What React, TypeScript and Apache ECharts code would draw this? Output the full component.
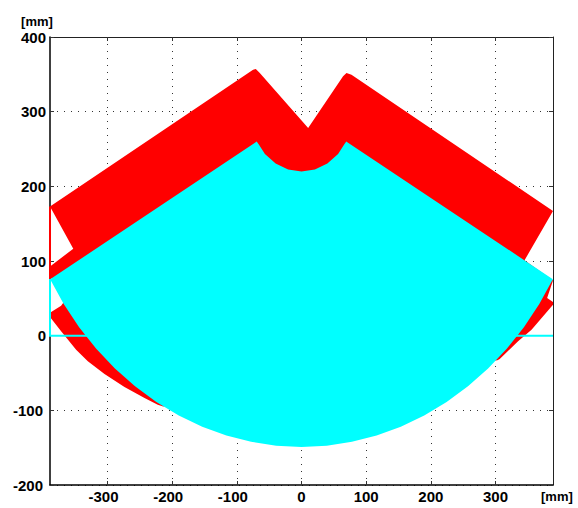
import React, { useEffect, useRef } from "react";
import * as echarts from "echarts";

const xTicks = [-300, -200, -100, 0, 100, 200, 300];
const yTicks = [-200, -100, 0, 100, 200, 300, 400];
const xRange = [-389, 389];
const yRange = [-200, 400];

const redOutline = [
  [-389, 173], [-74.9, 356.2], [-70.7, 357], [-64.5, 351.8], [10.3, 278], [64.3, 347.3], [69.6, 351.8], [77.3, 349.5],
  [389, 167], [345, 101], [389, 74], [379.9, 50.5], [389, 45], [389, 41.5], [355.8, 8], [335, -7.6],
  [306.6, -31.2], [303, -33], [-214, -95], [-222.3, -92.4], [-242.8, -83.4], [-273.8, -68.7], [-304.7, -51.5],
  [-330.5, -34.4], [-348.6, -18.7], [-371.8, 5.8], [-387.8, 23.7], [-387.8, 31.2], [-371.8, 40.2],
  [-330, 90], [-389, 76], [-389, 92.6], [-353, 116.5],
];
const redEdge = [[-389, 173], [-389, 76]];

const cyanOutline = [
  [-388.8, 75.5], [-72, 258.5], [-69.3, 260], [-66, 256],
  [-56.6, 243.4], [-40, 230.7], [-20.7, 222.7], [0, 220], [20.7, 222.7], [40, 230.7], [56.6, 243.4],
  [66, 256], [69.3, 260], [72, 258.5], [388.8, 75.5],
  [367.8, 42.5], [344, 11.4], [317.5, -17.5], [288.6, -44], [257.5, -67.8], [224.5, -88.8],
  [189.8, -106.9], [153.6, -121.9], [116.2, -133.7], [78, -142.2], [39.1, -147.3], [0, -149],
  [-39.1, -147.3], [-78, -142.2], [-116.2, -133.7], [-153.6, -121.9], [-189.8, -106.9],
  [-224.5, -88.8], [-257.5, -67.8], [-288.6, -44], [-317.5, -17.5], [-344, 11.4], [-367.8, 42.5],
];
const cyanEdge = [[-389, 76], [-389, 0], [389, 0]];

const FONT = "'Liberation Sans', Arial, sans-serif";

function shape(points: number[][], type: "polygon" | "polyline", color: string, z: number) {
  return {
    type: "custom",
    coordinateSystem: "cartesian2d",
    xAxisIndex: 0,
    yAxisIndex: 0,
    z,
    silent: true,
    clip: false,
    encode: { x: 0, y: 1 },
    data: points,
    renderItem: (params: any, api: any) => {
      if (params.dataIndex !== 0) return null;
      const pts = points.map((p) => api.coord(p));
      return type === "polygon"
        ? { type, shape: { points: pts }, style: { fill: color, stroke: null } }
        : { type, shape: { points: pts }, style: { fill: null, stroke: color, lineWidth: 2 } };
    },
  };
}

function axisBase(min: number, max: number, ticks: number[], position: string, main: boolean, negPad: number[]) {
  const labelFont = { color: "#000", fontFamily: FONT, fontWeight: "bold", fontSize: 15 };
  return {
    type: "value",
    min,
    max,
    position,
    axisLine: { show: true, onZero: false, lineStyle: { color: main ? "#000" : "#222", width: main ? 1.5 : 1 } },
    axisTick: { show: true, inside: true, length: 4, customValues: ticks, lineStyle: { color: "#333", width: 1 } },
    axisLabel: main
      ? {
          show: true,
          customValues: ticks,
          ...labelFont,
          margin: 4,
          hideOverlap: false,
          showMinLabel: true,
          showMaxLabel: true,
          formatter: (v: number) => (v < 0 ? `{neg|${v}}` : `${v}`),
          rich: { neg: { ...labelFont, padding: negPad } },
        }
      : { show: false },
    splitLine: main
      ? { show: true, lineStyle: { color: "#333", type: [1, 6], width: 1 } }
      : { show: false },
  };
}

export default function App() {
  const ref = useRef<HTMLDivElement>(null);
  useEffect(() => {
    document.body.style.margin = "0";
    const chart = echarts.init(ref.current!, undefined, { renderer: "svg" });
    const nameStyle = { color: "#000", fontFamily: FONT, fontWeight: "bold", fontSize: 13 };
    chart.setOption({
      animation: false,
      backgroundColor: "#fff",
      grid: { left: 50, right: 25, top: 37, bottom: 23, containLabel: false, outerBoundsMode: "none" },
      xAxis: [
        {
          ...axisBase(xRange[0], xRange[1], xTicks, "bottom", true, [0, 8, 0, 0]),
          name: "[mm]",
          nameLocation: "end",
          nameGap: -12,
          nameMoveOverlap: false,
          nameTextStyle: { ...nameStyle, align: "left", verticalAlign: "top", padding: [5, 0, 0, 0] },
        },
        axisBase(xRange[0], xRange[1], xTicks, "top", false, [0, 0, 0, 0]),
      ],
      yAxis: [
        {
          ...axisBase(yRange[0], yRange[1], yTicks, "left", true, [0, 3, 0, 0]),
          name: "[mm]",
          nameLocation: "end",
          nameGap: 9,
          nameMoveOverlap: false,
          nameTextStyle: { ...nameStyle, align: "center", verticalAlign: "bottom", padding: [0, 26, 0, 0] },
        },
        axisBase(yRange[0], yRange[1], yTicks, "right", false, [0, 0, 0, 0]),
      ],
      series: [
        shape(redOutline, "polygon", "#ff0000", 3),
        shape(redEdge, "polyline", "#ff0000", 4),
        shape(cyanOutline, "polygon", "#00ffff", 5),
        shape(cyanEdge, "polyline", "#00ffff", 6),
      ],
    });
    return () => chart.dispose();
  }, []);
  return <div ref={ref} style={{ width: 578, height: 508 }} />;
}
